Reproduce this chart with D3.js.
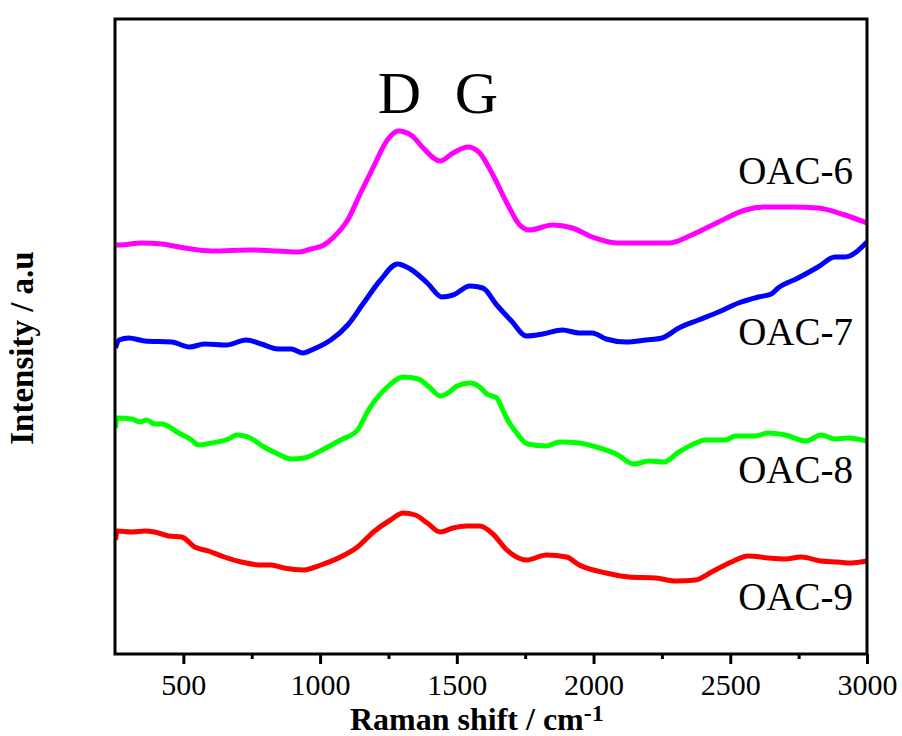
<!DOCTYPE html>
<html>
<head>
<meta charset="utf-8">
<script src="https://cdn.jsdelivr.net/npm/d3@7"></script>
<style>
  body { margin: 0; background: #fff; }
  text { font-family: "Liberation Serif", "Times New Roman", serif; }
</style>
</head>
<body>
<div id="chart"></div>
<script>
// Raman spectra, intensity in arbitrary units
const oac6 = [[255,409],[265,409],[348,411],[421,410],[505,406],[603,403],[748,404],[846,403],[923,402],[966,405],[1014,409],[1050,417],[1101,434],[1148,461],[1195,487],[1246,514],[1286,523],[1337,518],[1377,506],[1439,493],[1486,501],[1541,507],[1584,501],[1632,479],[1683,451],[1730,429],[1766,424],[1850,429],[1923,426],[1995,417],[2083,411],[2192,411],[2275,411],[2359,419],[2457,432],[2555,444],[2628,447],[2722,447],[2821,446],[2919,439],[3000,431]];

const oac7 = [[252,306],[265,314],[301,316],[359,313],[457,312],[523,307],[577,310],[657,309],[730,314],[785,310],[846,305],[894,305],[937,301],[977,305],[1039,314],[1101,329],[1159,351],[1221,374],[1283,390],[1330,385],[1392,371],[1446,357],[1486,359],[1548,368],[1595,366],[1646,349],[1700,333],[1755,318],[1814,320],[1886,324],[1948,321],[1995,321],[2046,315],[2119,312],[2192,314],[2250,316],[2312,326],[2384,334],[2457,342],[2530,351],[2603,357],[2650,360],[2675,366],[2748,376],[2821,387],[2883,397],[2919,397],[3000,412]];

const oac8 = [[252,226],[258,236],[312,235],[341,232],[366,234],[395,230],[421,230],[483,221],[530,214],[555,209],[603,211],[665,215],[694,219],[737,217],[795,207],[846,200],[894,195],[941,196],[1014,205],[1075,214],[1137,224],[1177,244],[1246,267],[1304,277],[1359,275],[1403,266],[1439,258],[1468,261],[1501,268],[1548,271],[1584,267],[1610,260],[1646,256],[1668,244],[1686,234],[1719,221],[1759,210],[1828,208],[1875,212],[1948,211],[2010,207],[2083,200],[2148,190],[2203,193],[2257,192],[2312,202],[2359,209],[2410,214],[2483,214],[2519,218],[2592,218],[2639,221],[2701,219],[2777,213],[2832,219],[2883,215],[2930,216],[3000,213]];

const oac9 = [[252,114],[258,123],[312,122],[359,123],[395,122],[446,118],[494,117],[541,107],[592,103],[650,97],[712,92],[785,89],[821,89],[868,86],[941,84],[1003,89],[1075,97],[1137,107],[1195,122],[1257,134],[1304,141],[1348,139],[1392,131],[1439,122],[1486,126],[1537,128],[1584,128],[1632,120],[1683,104],[1755,94],[1828,99],[1901,97],[1948,89],[2046,81],[2130,77],[2228,76],[2301,73],[2373,74],[2432,82],[2504,92],[2566,98],[2639,96],[2701,95],[2759,97],[2832,93],[2893,92],[2941,91],[3000,93]];

const sampleNames = ["OAC-6", "OAC-7", "OAC-8", "OAC-9"];
const sampleColors = ["#ff00ff", "#0000ff", "#00ff00", "#ff0000"];
const sampleLabelY = [470, 309, 171, 44];   // label baseline, in intensity units
const peakNames = ["D", "G"];
const peakPos = [1290, 1572];
const majorTicks = [500, 1000, 1500, 2000, 2500, 3000];
const minorTicks = [750, 1250, 1750, 2250, 2750];

const width = 902, height = 736;
const margin = { top: 19, right: 35, bottom: 82, left: 115 };

const svg = d3.select("#chart").append("svg")
    .attr("width", width)
    .attr("height", height);

const x = d3.scaleLinear()
    .domain([250, 3000])
    .range([margin.left, width - margin.right]);

const y = d3.scaleLinear()
    .domain([0, 635])
    .range([height - margin.bottom, margin.top]);

svg.append("clipPath").attr("id", "plot-clip")
  .append("rect")
    .attr("x", x(250)).attr("y", y(635))
    .attr("width", x(3000) - x(250)).attr("height", y(0) - y(635));

const line = d3.line()
    .x(d => x(d[0]))
    .y(d => y(d[1]))
    .curve(d3.curveMonotoneX);

const series = [oac6, oac7, oac8, oac9];
svg.append("g").attr("clip-path", "url(#plot-clip)")
  .selectAll("path")
  .data(series)
  .enter().append("path")
    .attr("d", line)
    .attr("fill", "none")
    .attr("stroke", (d, i) => sampleColors[i])
    .attr("stroke-width", 5)
    .attr("stroke-linejoin", "round");

// sample labels
svg.selectAll(".sample-label")
  .data(sampleNames)
  .enter().append("text")
    .attr("class", "sample-label")
    .attr("x", 853)
    .attr("y", (d, i) => y(sampleLabelY[i]))
    .attr("text-anchor", "end")
    .attr("font-size", 39)
    .text(d => d);

// peak labels
svg.selectAll(".peak-label")
  .data(peakNames)
  .enter().append("text")
    .attr("class", "peak-label")
    .attr("x", (d, i) => x(peakPos[i]))
    .attr("y", 113)
    .attr("text-anchor", "middle")
    .attr("font-size", 60)
    .text(d => d);

// frame
svg.append("rect")
    .attr("x", x(250)).attr("y", y(635))
    .attr("width", x(3000) - x(250)).attr("height", y(0) - y(635))
    .attr("fill", "none")
    .attr("stroke", "#000")
    .attr("stroke-width", 3);

// x axis
const xAxis = svg.append("g")
    .attr("transform", `translate(0,${y(0)})`)
    .call(d3.axisBottom(x).tickValues(majorTicks).tickFormat(d3.format("d")).tickSize(10).tickPadding(10));
xAxis.select(".domain").remove();
xAxis.selectAll(".tick line").attr("stroke-width", 3);
xAxis.selectAll(".tick text")
    .attr("font-family", "'Liberation Serif', 'Times New Roman', serif")
    .attr("font-size", 30);

const xMinor = svg.append("g")
    .attr("transform", `translate(0,${y(0)})`)
    .call(d3.axisBottom(x).tickValues(minorTicks).tickFormat("").tickSize(5));
xMinor.select(".domain").remove();
xMinor.selectAll(".tick line").attr("stroke-width", 3);

// axis titles
const xTitle = svg.append("text")
    .attr("x", 350)
    .attr("y", 730)
    .attr("font-size", 32)
    .attr("font-weight", "bold");
xTitle.append("tspan").text("Raman shift / cm");
xTitle.append("tspan").attr("dy", -9).attr("font-size", 24).text("-1");

svg.append("text")
    .attr("transform", "translate(33,348) rotate(-90)")
    .attr("text-anchor", "middle")
    .attr("font-size", 33)
    .attr("font-weight", "bold")
    .text("Intensity / a.u");
</script>
</body>
</html>
